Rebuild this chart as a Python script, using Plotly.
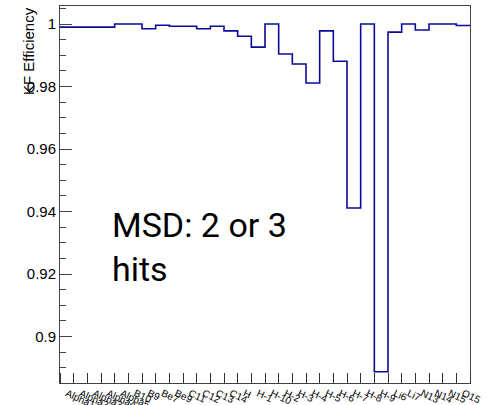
import plotly.graph_objects as go

labels = ["Alpha1", "Alpha2", "Alpha3", "Alpha4", "Alpha5",
          "B10", "B9", "Be7", "Be9",
          "C11", "C12", "C13", "C14",
          "H", "H-1", "H-10", "H-2", "H-3", "H-4", "H-5", "H-6", "H-7", "H-8", "H-9",
          "Li6", "Li7", "N13", "N14", "N15", "O15"]
efficiency = [0.999, 0.999, 0.999, 0.999, 1.000, 1.000, 0.9985, 0.9996, 0.9993, 0.9993,
              0.9985, 0.9993, 0.9978, 0.9961, 0.9926, 1.000, 0.9904, 0.9872, 0.9811, 0.9978,
              0.9881, 0.9411, 1.000, 0.8887, 0.9974, 1.000, 0.9981, 1.000, 1.000, 0.9995]
ytickvals = [0.9, 0.92, 0.94, 0.96, 0.98, 1.0]
yticktext = ["0.9", "0.92", "0.94", "0.96", "0.98", "1"]

n = len(efficiency)
edges = list(range(n + 1))
centers = [i + 0.5 for i in range(n)]

fig = go.Figure()
fig.add_trace(go.Scatter(
    x=edges, y=efficiency + [efficiency[-1]],
    mode="lines", line=dict(shape="hv", color="#0a0a9c", width=1.6),
    hoverinfo="skip", showlegend=False))

W, H = 492, 405
L, R, T, B = 60, 470.5, 6, 383

fig.update_layout(
    width=W, height=H,
    margin=dict(l=L, r=W - R, t=T, b=H - B),
    plot_bgcolor="white", paper_bgcolor="white",
    font=dict(family="Liberation Sans", color="black"),
    xaxis=dict(
        range=[0, n], tickvals=centers, ticktext=labels, ticks="",
        tickangle=25, tickfont=dict(size=10), automargin=False,
        ticklabelstandoff=0,
        showgrid=False, zeroline=False,
        showline=True, linecolor="#444", linewidth=1, mirror=True,
        minor=dict(ticks="inside", ticklen=10, tickcolor="#333", dtick=1, tick0=0, showgrid=False),
    ),
    yaxis=dict(
        range=[0.88512, 1.00576], tickvals=ytickvals, ticktext=yticktext,
        ticks="inside", ticklen=12, tickcolor="#444", tickfont=dict(size=15),
        automargin=False,
        showgrid=False, zeroline=False,
        showline=True, linecolor="#444", linewidth=1, mirror=True,
        minor=dict(ticks="inside", ticklen=6, tickcolor="#444", dtick=0.005, tick0=0.9, showgrid=False),
    ),
)

fig.add_annotation(
    text="KF Efficiency", textangle=-90, showarrow=False,
    xref="paper", yref="paper",
    x=(28 - L) / (R - L), y=(B - 5) / (B - T),
    xanchor="center", yanchor="top",
    font=dict(size=15, family="Liberation Sans", color="black"))

fig.add_annotation(
    text="MSD: 2 or 3<br>hits", showarrow=False, align="left",
    xref="paper", yref="paper",
    x=(110 - L) / (R - L), y=(B - 203) / (B - T),
    xanchor="left", yanchor="top",
    font=dict(size=34, family="Roboto", color="black"))

fig.write_html("out.html")
